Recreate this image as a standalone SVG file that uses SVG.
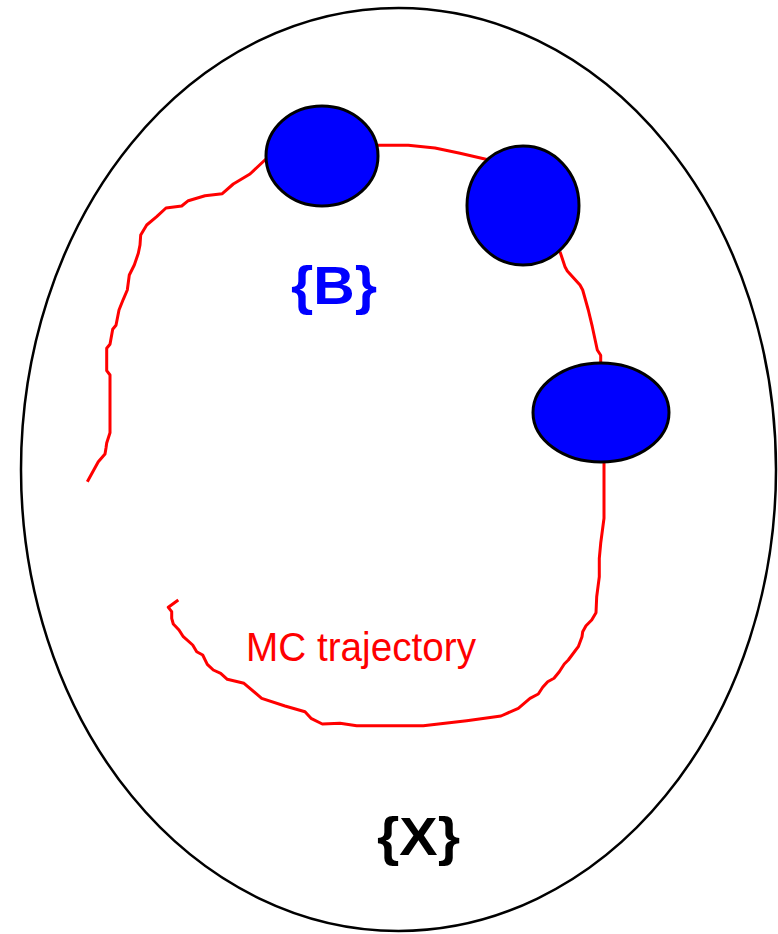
<svg xmlns="http://www.w3.org/2000/svg" width="778" height="934" viewBox="0 0 778 934">
<style>
.blob{fill:#0000ff;stroke:#000;stroke-width:3}
.traj{fill:none;stroke:#ff0000;stroke-width:3;stroke-linejoin:round;stroke-linecap:butt}
.lbl{font-family:"Liberation Sans",Arial,sans-serif;font-weight:bold}
</style>
<rect width="778" height="934" fill="#fff"/>
<g id="space">
<ellipse cx="398.5" cy="469.5" rx="377.5" ry="461.5" fill="none" stroke="#000" stroke-width="2.5"/>
</g>
<g id="connectors">
<path class="traj" d="M87.3,481.7 L98.3,461.7 L105,454 L106,448 L106.7,443 L110,432.7 L110,375 L106.7,370.7 L106.7,348.3 L110,344.3 L112.7,329.3 L116,325.3 L119,310 L123.3,299.3 L127.3,290 L129.3,275 L134.3,265 L138.3,253.3 L140,245 L140.7,235 L146.7,225 L156.7,216.7 L166,208 L181.7,206 L188.3,200.7 L205,195.7 L222.3,193.7 L233.3,184 L250,174 L266,159"/>
<path class="traj" d="M376.7,145.3 L408.3,145.3 L435,148 L460,153.3 L487,159.5"/>
<path class="traj" d="M560,251.7 L565,266.7 L567.3,271 L580,285 L582.7,290 L588.3,310 L592.3,326.7 L597.3,350 L600.7,355.3 L600.7,364"/>
<path class="traj" d="M604,461 L604,518.3 L600.7,543.3 L599.3,558.3 L599.3,576.7 L596.7,596.7 L596,612.7 L591.7,620 L586,625.7 L582.7,631.7 L582,636.7 L578.3,646.7 L575,651 L568.3,660 L564.3,664 L559.3,671.7 L554,678.3 L547.7,681.7 L542.7,687.3 L538.3,694 L530,698.3 L518.3,708.3 L501,716 L466.7,720.7 L423.3,725.7 L356.7,725.7 L340,723.3 L322.3,724 L311,718.3 L305,711.7 L285,706 L261.7,698.3 L244,683.3 L227.3,679.3 L220.7,673.3 L213.3,670 L207.3,664.3 L202.7,655 L196.7,651.7 L192.7,645 L183.3,636.7 L179,630 L173.3,624 L171.7,618.3 L171.7,611.7 L168.3,607.3 L178.3,600"/>
</g>
<g id="blob1"><ellipse class="blob" cx="322" cy="156" rx="56" ry="50"/></g>
<g id="blob2"><ellipse class="blob" cx="523" cy="205.5" rx="56" ry="59.5"/></g>
<g id="blob3"><ellipse class="blob" cx="601" cy="412.5" rx="68" ry="49.5"/></g>
<g id="label-B"><text class="lbl" x="291" y="304" font-size="54" fill="#0000ff" textLength="86" lengthAdjust="spacingAndGlyphs">{B}</text></g>
<g id="label-X"><text class="lbl" x="377" y="855" font-size="54" fill="#000" textLength="83" lengthAdjust="spacingAndGlyphs">{X}</text></g>
<g id="label-MC"><text x="246" y="661" font-family="Liberation Sans,Arial,sans-serif" font-size="40" fill="#ff0000" textLength="230" lengthAdjust="spacingAndGlyphs">MC trajectory</text></g>
</svg>
